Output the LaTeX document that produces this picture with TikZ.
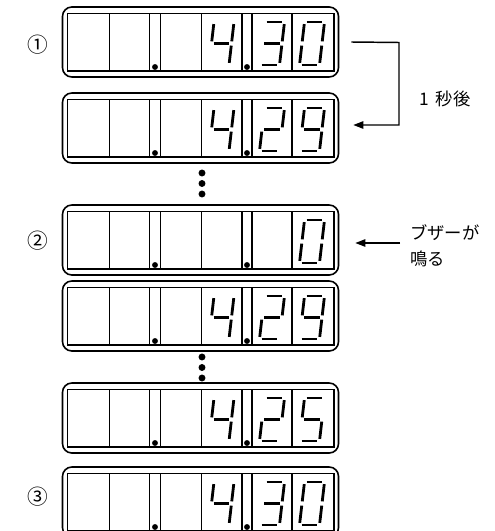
\documentclass[tikz,border=0pt]{standalone}
\usepackage{fontspec}
\newfontfamily\jp{Noto Sans CJK JP}
\usetikzlibrary{arrows.meta,calc}
\tikzset{
  panelbox/.style={draw, line width=1.2pt, rounded corners=7pt, minimum width=207pt, minimum height=52.5pt, inner sep=0pt},
  frame/.style={line width=1.2pt},
  seg/.style={line width=2.1pt, line cap=butt, shorten <=1.6pt, shorten >=1.6pt},
  conn/.style={line width=1.1pt},
  tip/.style={-{Triangle[length=7.5pt,width=5.5pt]}},
  lab/.style={font=\jp\fontsize{15.5}{16}\selectfont, inner sep=0pt},
  side/.style={font=\jp\fontsize{13}{15}\selectfont, inner sep=0pt}
}
\newcommand\sga{\draw[seg] (12.5,15)--(32.5,15);}
\newcommand\sgb{\draw[seg] (32.5,15)--(30,36.5);}
\newcommand\sgc{\draw[seg] (30,36.5)--(27.5,58);}
\newcommand\sgd{\draw[seg] (7.5,58)--(27.5,58);}
\newcommand\sge{\draw[seg] (10,36.5)--(7.5,58);}
\newcommand\sgf{\draw[seg] (12.5,15)--(10,36.5);}
\newcommand\sgg{\draw[seg] (10,36.5)--(30,36.5);}
\newcommand\dzero{\sga\sgb\sgc\sgd\sge\sgf}
\newcommand\dtwo{\sga\sgb\sgg\sge\sgd}
\newcommand\dthree{\sga\sgb\sgg\sgc\sgd}
\newcommand\dfour{\sgf\sgg\sgb\sgc}
\newcommand\dfive{\sga\sgf\sgg\sgc\sgd}
\newcommand\dnine{\sga\sgb\sgc\sgd\sgf\sgg}
\newcommand\mydigit[3]{\begin{scope}[shift={(#1,#2)}]#3\end{scope}}
\newcommand\mypanel[2]{%
  \node[panelbox] (#1) at (200.5,#2+35) {};
  \draw[frame] (67.5,#2+6.5) rectangle (334,#2+64);
  \foreach \xx in {109.5,149.5,160.5,201.5,242,252,292}
    \draw[frame] (\xx,#2+6.5) -- (\xx,#2+64);
  \fill (155,#2+60) circle[radius=2.2pt];
  \fill (247,#2+60) circle[radius=2.2pt];
}
\begin{document}
\begin{tikzpicture}[x=0.75pt,y=-0.75pt]
\useasboundingbox (0,0) rectangle (495,531);
\clip (0,0) rectangle (495,531);
% panels
\mypanel{p1}{7}
\mydigit{201.5}{7}{\dfour}\mydigit{252}{7}{\dthree}\mydigit{292}{7}{\dzero}
\mypanel{p2}{93}
\mydigit{201.5}{93}{\dfour}\mydigit{252}{93}{\dtwo}\mydigit{292}{93}{\dnine}
\mypanel{p3}{205}
\mydigit{292}{205}{\dzero}
\mypanel{p4}{281}
\mydigit{201.5}{281}{\dfour}\mydigit{252}{281}{\dtwo}\mydigit{292}{281}{\dnine}
\mypanel{p5}{383}
\mydigit{201.5}{383}{\dfour}\mydigit{252}{383}{\dtwo}\mydigit{292}{383}{\dfive}
\mypanel{p6}{467}
\mydigit{201.5}{467}{\dfour}\mydigit{252}{467}{\dthree}\mydigit{292}{467}{\dzero}
% vertical ellipses
\foreach \yy in {173,183.5,194} \fill (202,\yy) circle[radius=2.6pt];
\foreach \yy in {357,367.5,378} \fill (202,\yy) circle[radius=2.6pt];
% labels
\node[lab] (n1) at (38,45) {①};
\node[lab] (n2) at (38,241) {②};
\node[lab] (n3) at (38,497) {③};
% arrow 1
\coordinate (a1s) at ($(p1.east)+(12,0)$);
\coordinate (a1c) at (399,42.5);
\coordinate (a1e) at ($(p2.east)+(14,-3)$);
\draw[conn,tip] (a1s) -- (a1c) |- (a1e);
\node[side] (t1) at (445,99) {1\hspace{0.4em}秒後};
% arrow 2
\coordinate (a2s) at (400,243);
\coordinate (a2e) at ($(p3.east)+(16,3)$);
\draw[conn,tip] (a2s) -- (a2e);
\node[side,anchor=west] (t2) at (410,233) {ブザーが};
\node[side,anchor=west] (t3) at (410,259) {鳴る};
\end{tikzpicture}
\end{document}
